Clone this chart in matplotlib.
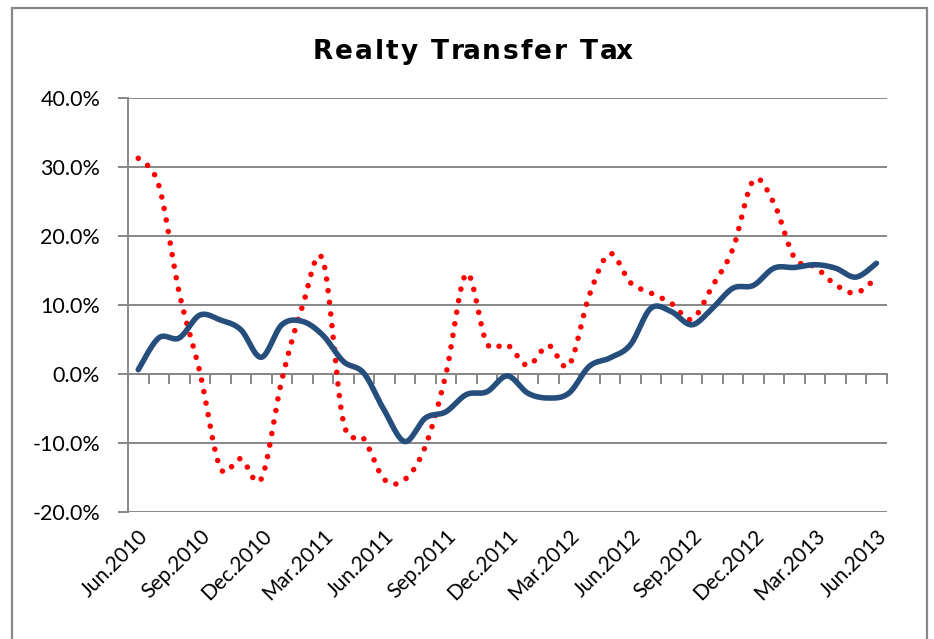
import numpy as np
import matplotlib
matplotlib.use("Agg")
import matplotlib.pyplot as plt
from matplotlib.patches import Rectangle

# ---------------- data ----------------
months = ["Jun.2010", "Jul.2010", "Aug.2010", "Sep.2010", "Oct.2010", "Nov.2010",
          "Dec.2010", "Jan.2011", "Feb.2011", "Mar.2011", "Apr.2011", "May.2011",
          "Jun.2011", "Jul.2011", "Aug.2011", "Sep.2011", "Oct.2011", "Nov.2011",
          "Dec.2011", "Jan.2012", "Feb.2012", "Mar.2012", "Apr.2012", "May.2012",
          "Jun.2012", "Jul.2012", "Aug.2012", "Sep.2012", "Oct.2012", "Nov.2012",
          "Dec.2012", "Jan.2013", "Feb.2013", "Mar.2013", "Apr.2013", "May.2013",
          "Jun.2013"]

series_blue = [0.6, 5.2, 5.2, 8.5, 7.8, 6.4, 2.4, 7.1, 7.6, 5.6, 1.8, 0.1,
               -5.3, -9.8, -6.4, -5.5, -3.0, -2.6, -0.3, -2.8, -3.5, -2.8, 1.1, 2.3,
               4.2, 9.5, 9.0, 7.1, 9.5, 12.4, 12.8, 15.3, 15.4, 15.8, 15.3, 14.0,
               16.0]

series_red = [31.2, 27.3, 11.7, 0.3, -13.6, -12.3, -15.2, -0.9, 9.7, 16.5, -6.9, -9.4,
              -15.3, -15.3, -10.5, -0.1, 14.5, 4.4, 4.2, 1.2, 4.1, 1.2, 11.4, 17.4,
              13.2, 11.7, 10.2, 7.9, 12.7, 18.1, 28.0, 24.7, 16.8, 15.5, 12.9, 11.7,
              13.9]

tick_label_every = 3
y_ticks = [-20, -10, 0, 10, 20, 30, 40]
title = "Realty Transfer Tax"


def smooth(xs, ys, n=20):
    """Excel-like smoothed line: cubic Bezier with Catmull-Rom control points."""
    P = np.column_stack([np.asarray(xs, float), np.asarray(ys, float)])
    m = len(P)
    out = [P[0]]
    t = np.linspace(0, 1, n + 1)[1:]
    for i in range(m - 1):
        p0 = P[i - 1] if i > 0 else P[i]
        p1 = P[i]
        p2 = P[i + 1]
        p3 = P[i + 2] if i + 2 < m else P[i + 1]
        c1 = p1 + (p2 - p0) / 6.0
        c2 = p2 - (p3 - p1) / 6.0
        for tt in t:
            b = ((1 - tt) ** 3) * p1 + 3 * ((1 - tt) ** 2) * tt * c1 + \
                3 * (1 - tt) * tt ** 2 * c2 + tt ** 3 * p2
            out.append(b)
    out = np.array(out)
    return out[:, 0], out[:, 1]


W, H = 934, 639
fig = plt.figure(figsize=(W / 100, H / 100), dpi=100)
ax = fig.add_axes([128 / W, 1 - 512 / H, (886.7 - 128) / W, (512 - 97.5) / H])

grid_col = "#878787"
x = np.arange(len(months))

for v in y_ticks:
    ax.axhline(v, color=grid_col, lw=1.4, zorder=1)

bx, by = smooth(x, series_blue)
rx, ry = smooth(x, series_red)
ax.plot(bx, by, color="#254E7C", lw=4.0, solid_capstyle="round",
        solid_joinstyle="round", zorder=4)
ax.plot(rx, ry, color="#FF0000", lw=4.0, linestyle=(0, (0.01, 2.1)),
        dash_capstyle="round", zorder=3)

ax.set_xlim(-0.5, len(months) - 0.5)
ax.set_ylim(-20, 40)

ax.set_yticks(y_ticks)
ax.set_yticklabels([f"{v:.1f}%" for v in y_ticks], fontsize=15.5, family="Lato")
ax.tick_params(axis="y", length=7, width=1.4, color=grid_col, pad=13)

ax.set_xticks(x[::tick_label_every])
ax.set_xticklabels(months[::tick_label_every], rotation=45, ha="right",
                   va="top", rotation_mode="anchor", fontsize=15, family="Lato")
ax.tick_params(axis="x", length=0, pad=10)

for s in ["top", "right", "bottom"]:
    ax.spines[s].set_visible(False)
ax.spines["left"].set_color(grid_col)
ax.spines["left"].set_linewidth(1.4)

# category axis crossing at 0 with boundary tick marks
sec = ax.secondary_xaxis(20 / 60)
sec.set_xticks(np.arange(-0.5, len(months), 1.0))
sec.set_xticklabels([])
sec.tick_params(axis="x", direction="out", length=7, width=1.4, color=grid_col,
                bottom=True, top=False, labelbottom=False, labeltop=False)
sec.xaxis.set_ticks_position("bottom")
sec.spines["bottom"].set_color(grid_col)
sec.spines["bottom"].set_linewidth(1.4)
for s in ["top", "left", "right"]:
    if s in sec.spines:
        sec.spines[s].set_visible(False)

# title with slight letter spacing (wide, Verdana-like look)
renderer = fig.canvas.get_renderer()
tprops = dict(fontsize=19, fontweight="bold", family="DejaVu Sans")
target_w = 320.0
probe = fig.text(0, 0, title, **tprops)
natural_w = probe.get_window_extent(renderer).width
probe.remove()
extra = (target_w - natural_w) / (len(title) - 1)
x0 = 473 - target_w / 2
for i, ch in enumerate(title):
    if i == 0:
        off = 0.0
    else:
        pt = fig.text(0, 0, title[:i] + "|", **tprops)
        pb = fig.text(0, 0, "|", **tprops)
        off = pt.get_window_extent(renderer).width - pb.get_window_extent(renderer).width
        pt.remove()
        pb.remove()
    fig.text((x0 + off + i * extra) / W, 1 - 52 / H, ch, ha="left", va="center", **tprops)

fig.patches.append(Rectangle((12 / W, -0.02), (926.7 - 12) / W, 1.02 - 7.5 / H,
                             transform=fig.transFigure, fill=False,
                             edgecolor=grid_col, lw=1.6))

fig.savefig("out.png", dpi=100)
